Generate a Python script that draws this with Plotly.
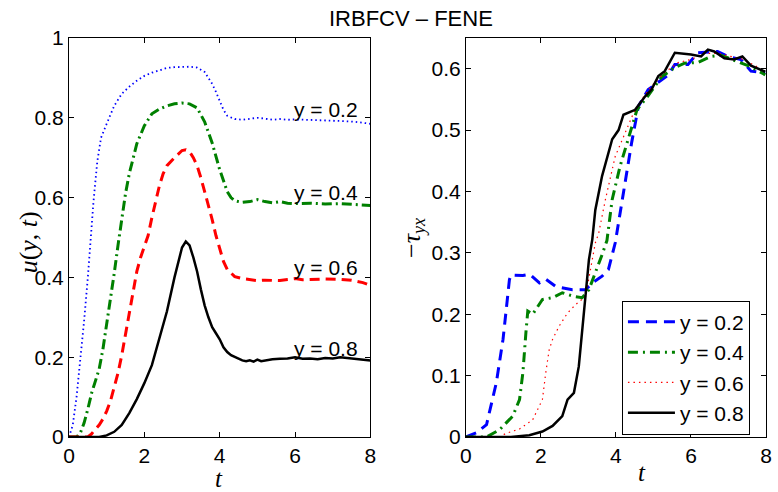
import plotly.graph_objects as go

# ---------------- data: left panel u(y,t) ----------------
t_u02 = [0, 0.1, 0.2, 0.3, 0.4, 0.5, 0.55, 0.65, 0.75, 0.85, 1.0, 1.2, 1.4, 1.6, 1.8, 2.0, 2.2, 2.4, 2.6, 2.8, 3.0,
         3.2, 3.4, 3.6, 3.7, 3.8, 3.9, 4.0, 4.1, 4.2, 4.4, 4.6, 4.8, 5.0, 5.2, 5.4, 5.6, 5.8, 6.0, 6.4, 6.8, 7.2,
         7.6, 8.0]
u02 = [0, 0.03, 0.10, 0.19, 0.29, 0.40, 0.47, 0.59, 0.69, 0.75, 0.785, 0.83, 0.86, 0.878, 0.893, 0.905, 0.913,
       0.92, 0.925, 0.927, 0.928, 0.928, 0.926, 0.915, 0.90, 0.885, 0.865, 0.84, 0.82, 0.805, 0.797, 0.795, 0.797,
       0.80, 0.798, 0.795, 0.797, 0.795, 0.796, 0.795, 0.794, 0.792, 0.79, 0.785]

t_u04 = [0, 0.2, 0.3, 0.4, 0.5, 0.6, 0.7, 0.8, 0.9, 1.0, 1.1, 1.2, 1.3, 1.4, 1.5, 1.6, 1.7, 1.8, 2.0, 2.2, 2.4, 2.6,
         2.8, 3.0, 3.2, 3.4, 3.6, 3.8, 4.0, 4.1, 4.2, 4.3, 4.4, 4.6, 4.8, 5.0, 5.2, 5.4, 5.6, 5.8, 6.0, 6.4, 6.8,
         7.2, 7.6, 8.0]
u04 = [0, 0, 0.01, 0.035, 0.07, 0.11, 0.14, 0.17, 0.22, 0.28, 0.34, 0.41, 0.48, 0.55, 0.61, 0.66, 0.70, 0.735,
       0.78, 0.81, 0.822, 0.83, 0.835, 0.837, 0.835, 0.825, 0.79, 0.737, 0.67, 0.64, 0.615, 0.60, 0.592, 0.588,
       0.59, 0.595, 0.59, 0.587, 0.59, 0.586, 0.585, 0.586, 0.584, 0.585, 0.583, 0.58]

t_u06 = [0, 0.5, 0.6, 0.7, 0.8, 0.9, 1.0, 1.1, 1.2, 1.3, 1.4, 1.5, 1.6, 1.7, 1.8, 1.9, 2.0, 2.1, 2.2, 2.3, 2.4, 2.5,
         2.6, 2.8, 3.0, 3.1, 3.2, 3.3, 3.4, 3.5, 3.6, 3.7, 3.8, 3.9, 4.0, 4.1, 4.2, 4.3, 4.4, 4.6, 4.8, 5.0, 5.2,
         5.4, 5.6, 5.8, 6.0, 6.2, 6.4, 6.8, 7.2, 7.5, 7.8, 8.0]
u06 = [0, 0, 0.008, 0.018, 0.03, 0.045, 0.065, 0.09, 0.125, 0.16, 0.205, 0.26, 0.305, 0.36, 0.415, 0.45, 0.475,
       0.505, 0.55, 0.59, 0.63, 0.66, 0.68, 0.70, 0.718, 0.72, 0.715, 0.70, 0.68, 0.65, 0.615, 0.585, 0.545, 0.505,
       0.47, 0.44, 0.42, 0.41, 0.402, 0.397, 0.395, 0.392, 0.393, 0.392, 0.392, 0.395, 0.397, 0.394, 0.395, 0.396,
       0.395, 0.393, 0.387, 0.38]

t_u08 = [0, 0.8, 1.0, 1.2, 1.4, 1.6, 1.8, 2.0, 2.2, 2.4, 2.6, 2.8, 2.9, 3.0, 3.1, 3.2, 3.3, 3.4, 3.5, 3.6, 3.7, 3.8,
         3.9, 4.0, 4.1, 4.2, 4.3, 4.4, 4.5, 4.6, 4.7, 4.8, 4.9, 5.0, 5.1, 5.2, 5.4, 5.6, 5.8, 6.0, 6.2, 6.4, 6.6,
         6.8, 7.0, 7.2, 7.4, 7.6, 7.8, 8.0]
u08 = [0, 0, 0.004, 0.013, 0.03, 0.06, 0.095, 0.135, 0.18, 0.245, 0.315, 0.40, 0.44, 0.475, 0.49, 0.48, 0.45,
       0.415, 0.37, 0.33, 0.30, 0.275, 0.26, 0.245, 0.225, 0.213, 0.205, 0.20, 0.195, 0.192, 0.19, 0.192, 0.189,
       0.194, 0.19, 0.192, 0.195, 0.196, 0.197, 0.20, 0.196, 0.197, 0.195, 0.198, 0.197, 0.20, 0.198, 0.196,
       0.194, 0.192]

# ---------------- data: right panel -tau_yx ----------------
t_s02 = [0, 0.28, 0.55, 0.81, 0.99, 1.16, 1.2, 1.52, 1.7, 1.96, 2.13, 2.4, 2.84, 3.19, 3.37, 3.63, 3.8, 3.98, 4.2,
         4.42, 4.6, 4.86, 5.22, 5.4, 5.57, 5.92, 6.18, 6.45, 6.71, 6.98, 7.33, 7.6, 7.98]
s02 = [0, 0.007, 0.02, 0.088, 0.159, 0.256, 0.264, 0.263, 0.265, 0.251, 0.257, 0.245, 0.24, 0.24, 0.251, 0.262,
       0.273, 0.316, 0.398, 0.48, 0.539, 0.566, 0.582, 0.59, 0.607, 0.607, 0.626, 0.627, 0.628, 0.62, 0.615, 0.596,
       0.593]

t_s04 = [0, 0.55, 0.9, 1.25, 1.43, 1.52, 1.6, 1.65, 1.78, 2.04, 2.31, 2.57, 2.88, 3.1, 3.28, 3.45, 3.63, 3.76, 3.9,
         4.11, 4.38, 4.56, 4.87, 5.22, 5.57, 5.83, 6.18, 6.53, 6.8, 7.15, 7.6, 7.98]
s04 = [0, 0, 0.012, 0.034, 0.061, 0.105, 0.17, 0.205, 0.2, 0.224, 0.227, 0.235, 0.229, 0.227, 0.24, 0.267, 0.297,
       0.32, 0.387, 0.441, 0.495, 0.533, 0.557, 0.587, 0.602, 0.609, 0.61, 0.62, 0.622, 0.614, 0.603, 0.59]

t_s06 = [0, 0.9, 1.07, 1.43, 1.78, 2.04, 2.13, 2.22, 2.31, 2.48, 2.71, 2.93, 3.19, 3.32, 3.45, 3.54, 3.72, 3.98,
         4.25, 4.47, 4.69, 4.95, 5.3, 5.66, 6.0, 6.36, 6.71, 7.06, 7.4, 7.98]
s06 = [0, 0, 0.006, 0.013, 0.028, 0.061, 0.105, 0.142, 0.159, 0.18, 0.202, 0.216, 0.229, 0.273, 0.316, 0.332,
       0.387, 0.457, 0.495, 0.528, 0.55, 0.572, 0.594, 0.61, 0.615, 0.625, 0.625, 0.62, 0.615, 0.596]

t_s08 = [0, 1.2, 1.69, 2.04, 2.31, 2.57, 2.71, 2.88, 3.01, 3.1, 3.19, 3.28, 3.37, 3.45, 3.63, 3.9, 4.07, 4.2, 4.51,
         4.78, 4.95, 5.13, 5.3, 5.57, 6.0, 6.27, 6.45, 6.62, 6.89, 7.15, 7.37, 7.6, 7.98]
s08 = [0, 0, 0.003, 0.009, 0.018, 0.034, 0.061, 0.072, 0.115, 0.175, 0.24, 0.289, 0.322, 0.37, 0.425, 0.485, 0.5,
       0.525, 0.533, 0.555, 0.566, 0.588, 0.596, 0.626, 0.623, 0.62, 0.631, 0.628, 0.617, 0.615, 0.62, 0.605,
       0.595]

labels = ["y = 0.2", "y = 0.4", "y = 0.6", "y = 0.8"]
label_x = 6.83
label_y = [0.82, 0.614, 0.424, 0.223]
x_ticks = [0, 2, 4, 6, 8]
left_y_ticks = [0, 0.2, 0.4, 0.6, 0.8, 1]
right_y_ticks = [0, 0.1, 0.2, 0.3, 0.4, 0.5, 0.6]

SANS = "Liberation Sans, Arial, sans-serif"
SERIF = "Liberation Serif, Times New Roman, serif"
DASHDOT = "10px,4px,2px,4px"

# plot area in page pixels: x 69..772, y 38..437
L, R, T, B = 69, 772, 38, 437
PW, PH = R - L, B - T


def px(xp):
    return (xp - L) / PW


def py(yp):
    return (B - yp) / PH


fig = go.Figure()

left_styles = [
    dict(color="blue", width=1.8, dash="1.5px,3px"),
    dict(color="green", width=3, dash=DASHDOT),
    dict(color="red", width=3, dash="10px,6px"),
    dict(color="black", width=2.5, dash="solid"),
]
for tx, ux, st in zip([t_u02, t_u04, t_u06, t_u08], [u02, u04, u06, u08], left_styles):
    fig.add_trace(go.Scatter(x=tx, y=ux, mode="lines", line=st, showlegend=False,
                             xaxis="x", yaxis="y", hoverinfo="skip"))

right_styles = [
    dict(color="blue", width=3, dash="11px,7px"),
    dict(color="green", width=3, dash="10px,5px,2px,5px"),
    dict(color="red", width=1.2, dash="1.5px,4px"),
    dict(color="black", width=2.5, dash="solid"),
]
for tx, sx, st, lab in zip([t_s02, t_s04, t_s06, t_s08], [s02, s04, s06, s08], right_styles, labels):
    fig.add_trace(go.Scatter(x=tx, y=sx, mode="lines", line=st, name=lab,
                             xaxis="x2", yaxis="y2", hoverinfo="skip"))

axis_common = dict(showline=True, linecolor="black", linewidth=1, mirror="ticks", ticks="inside",
                   ticklen=5, tickcolor="black", showgrid=False, zeroline=False,
                   tickfont=dict(family=SANS, size=21, color="black"))

fig.update_layout(
    width=778, height=492,
    margin=dict(l=L, r=778 - R, t=T, b=492 - B),
    paper_bgcolor="white", plot_bgcolor="white",
    xaxis=dict(domain=[0, px(373)], range=[0, 8], tickvals=x_ticks, anchor="y", **axis_common),
    yaxis=dict(domain=[0, 1], range=[0, 1], tickvals=left_y_ticks, anchor="x", **axis_common),
    xaxis2=dict(domain=[px(469.3), 1], range=[0, 8], tickvals=x_ticks, anchor="y2", **axis_common),
    yaxis2=dict(domain=[0, 1], range=[0, 0.65], tickvals=right_y_ticks, anchor="x2", **axis_common),
    legend=dict(x=px(626.7), y=py(300.7), xanchor="left", yanchor="top", bgcolor="white",
                bordercolor="black", borderwidth=1, font=dict(family=SANS, size=21, color="black"),
                tracegroupgap=0, itemwidth=47),
    showlegend=True,
)

annotations = []
for lab, ly in zip(labels, label_y):
    annotations.append(dict(x=label_x, y=ly, xref="x", yref="y", text=lab, showarrow=False,
                            xanchor="center", yanchor="middle",
                            font=dict(family=SANS, size=21, color="black")))
# title
annotations.append(dict(x=px(414), y=py(18.5), xref="paper", yref="paper", text="IRBFCV \u2013 FENE",
                        showarrow=False, xanchor="center", yanchor="middle",
                        font=dict(family=SANS, size=22, color="black")))
# axis titles
annotations.append(dict(x=px(220.7), y=py(479), xref="paper", yref="paper",
                        text="<i>t</i>", showarrow=False, xanchor="center", yanchor="middle",
                        font=dict(family=SERIF, size=25, color="black")))
annotations.append(dict(x=px(647), y=py(472), xref="paper", yref="paper",
                        text="<i>t</i>", showarrow=False, xanchor="center", yanchor="middle",
                        font=dict(family=SERIF, size=25, color="black")))
annotations.append(dict(x=px(28), y=py(242), xref="paper", yref="paper",
                        text="<i>u</i>(<i>y</i>, <i>t</i>)", showarrow=False, textangle=-90,
                        xanchor="center", yanchor="middle",
                        font=dict(family=SERIF, size=26, color="black")))
annotations.append(dict(x=px(416), y=py(238), xref="paper", yref="paper",
                        text="\u2212<i>\u03c4</i><sub><i>yx</i></sub>", showarrow=False, textangle=-90,
                        xanchor="center", yanchor="middle",
                        font=dict(family=SERIF, size=26, color="black")))
fig.update_layout(annotations=annotations)

fig.write_html("out.html", config={"displayModeBar": False},
               post_script="document.body.style.margin='0px';")
